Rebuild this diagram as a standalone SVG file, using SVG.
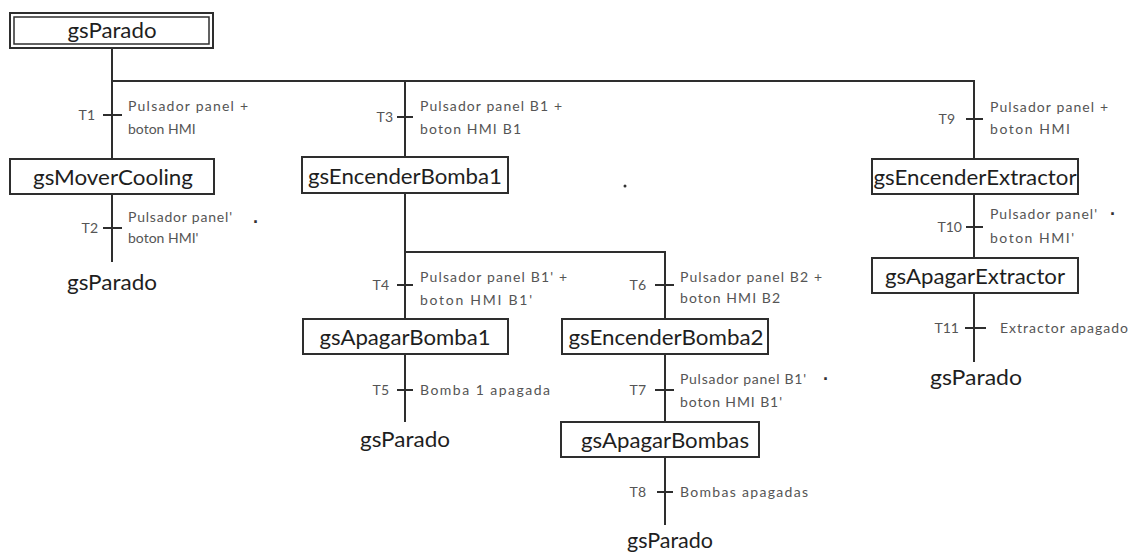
<svg xmlns="http://www.w3.org/2000/svg" width="1132" height="553" viewBox="0 0 1132 553">
  <style>
    .wire { stroke: #2e2e2e; stroke-width: 2; fill: none; }
    .tick { stroke: #2e2e2e; stroke-width: 2; }
    .box { fill: #ffffff; stroke: #2e2e2e; stroke-width: 2; }
    .inner { fill: none; stroke: #2e2e2e; stroke-width: 1.5; }
    .step { font-family: Lato, "Liberation Sans", sans-serif; font-size: 22px; fill: #1e1e1e; text-anchor: middle; }
    .tid { font-family: Lato, "Liberation Sans", sans-serif; font-size: 14px; fill: #555555; text-anchor: end; }
    .cond { font-family: Lato, "Liberation Sans", sans-serif; font-size: 14px; fill: #555555; }
    .and { font-family: "Liberation Sans", sans-serif; font-size: 18px; font-weight: bold; fill: #333333; text-anchor: middle; }
  </style>

  <rect width="1132" height="553" fill="#ffffff"/>

  <!-- connectors: step links, branches and transition ticks -->
  <g id="connectors">
    <!-- initial step to first branch bus -->
    <line class="wire" x1="112" y1="48" x2="112" y2="159"/>
    <polyline class="wire" points="112,81 974,81 974,159"/>
    <line class="wire" x1="405" y1="81" x2="405" y2="157"/>
    <!-- left column -->
    <line class="wire" x1="112" y1="194" x2="112" y2="262"/>
    <!-- pump branch -->
    <line class="wire" x1="405" y1="193" x2="405" y2="319"/>
    <polyline class="wire" points="405,252 665,252 665,319"/>
    <line class="wire" x1="405" y1="354" x2="405" y2="422"/>
    <line class="wire" x1="665" y1="354" x2="665" y2="422"/>
    <line class="wire" x1="665" y1="457" x2="665" y2="525"/>
    <!-- extractor column -->
    <line class="wire" x1="974" y1="194" x2="974" y2="258"/>
    <line class="wire" x1="974" y1="293" x2="974" y2="362"/>
  </g>

  <!-- steps -->
  <g id="step-init">
    <rect class="box" x="10" y="13" width="203" height="35"/>
    <rect class="inner" x="14" y="17" width="195" height="27"/>
    <text class="step" x="112" y="38" font-size="21" textLength="89" lengthAdjust="spacingAndGlyphs">gsParado</text>
  </g>
  <g id="step-mover-cooling">
    <rect class="box" x="10" y="159" width="204" height="35"/>
    <text class="step" x="113" y="185" textLength="160" lengthAdjust="spacingAndGlyphs">gsMoverCooling</text>
  </g>
  <g id="step-encender-bomba1">
    <rect class="box" x="302" y="157" width="206" height="36"/>
    <text class="step" x="405" y="184" textLength="194" lengthAdjust="spacingAndGlyphs">gsEncenderBomba1</text>
  </g>
  <g id="step-encender-extractor">
    <rect class="box" x="872" y="159" width="206" height="35"/>
    <text class="step" x="975" y="185" textLength="203" lengthAdjust="spacingAndGlyphs">gsEncenderExtractor</text>
  </g>
  <g id="step-apagar-bomba1">
    <rect class="box" x="303" y="319" width="205" height="35"/>
    <text class="step" x="405" y="345" textLength="171" lengthAdjust="spacingAndGlyphs">gsApagarBomba1</text>
  </g>
  <g id="step-encender-bomba2">
    <rect class="box" x="562" y="319" width="206" height="35"/>
    <text class="step" x="666" y="345" textLength="195" lengthAdjust="spacingAndGlyphs">gsEncenderBomba2</text>
  </g>
  <g id="step-apagar-bombas">
    <rect class="box" x="561" y="422" width="198" height="35"/>
    <text class="step" x="665" y="448" textLength="168" lengthAdjust="spacingAndGlyphs">gsApagarBombas</text>
  </g>
  <g id="step-apagar-extractor">
    <rect class="box" x="872" y="258" width="206" height="35"/>
    <text class="step" x="975" y="284" textLength="180" lengthAdjust="spacingAndGlyphs">gsApagarExtractor</text>
  </g>

  <!-- return-to-idle targets -->
  <g id="ret-t2"><text class="step" x="112" y="290" textLength="90" lengthAdjust="spacingAndGlyphs">gsParado</text></g>
  <g id="ret-t5"><text class="step" x="405" y="447" textLength="90" lengthAdjust="spacingAndGlyphs">gsParado</text></g>
  <g id="ret-t8"><text class="step" x="670" y="548" textLength="86" lengthAdjust="spacingAndGlyphs">gsParado</text></g>
  <g id="ret-t11"><text class="step" x="976" y="385" textLength="92" lengthAdjust="spacingAndGlyphs">gsParado</text></g>

  <!-- transitions -->
  <g id="t1">
    <line class="tick" x1="103" y1="115" x2="122" y2="115"/>
    <text class="tid" x="95" y="120">T1</text>
    <text class="cond" x="128" y="111" textLength="120" lengthAdjust="spacing">Pulsador panel +</text>
    <text class="cond" x="128" y="134">boton HMI</text>
  </g>
  <g id="t2">
    <line class="tick" x1="103" y1="228" x2="122" y2="228"/>
    <text class="tid" x="98" y="233">T2</text>
    <text class="cond" x="128" y="222" textLength="104" lengthAdjust="spacing">Pulsador panel'</text>
    <text class="and" x="256" y="228">·</text>
    <text class="cond" x="128" y="243">boton HMI'</text>
  </g>
  <g id="t3">
    <line class="tick" x1="397" y1="117" x2="413" y2="117"/>
    <text class="tid" x="393" y="122">T3</text>
    <text class="cond" x="420" y="111" textLength="142" lengthAdjust="spacing">Pulsador panel B1 +</text>
    <text class="cond" x="420" y="134" textLength="101" lengthAdjust="spacing">boton HMI B1</text>
  </g>
  <g id="t4">
    <line class="tick" x1="397" y1="285" x2="413" y2="285"/>
    <text class="tid" x="389" y="290">T4</text>
    <text class="cond" x="420" y="282" textLength="147" lengthAdjust="spacing">Pulsador panel B1' +</text>
    <text class="cond" x="420" y="305" textLength="112" lengthAdjust="spacing">boton HMI B1'</text>
  </g>
  <g id="t5">
    <line class="tick" x1="397" y1="390" x2="413" y2="390"/>
    <text class="tid" x="389" y="395">T5</text>
    <text class="cond" x="420" y="395" textLength="130" lengthAdjust="spacing">Bomba 1 apagada</text>
  </g>
  <g id="t6">
    <line class="tick" x1="655" y1="285" x2="674" y2="285"/>
    <text class="tid" x="646" y="290">T6</text>
    <text class="cond" x="680" y="282" textLength="142" lengthAdjust="spacing">Pulsador panel B2 +</text>
    <text class="cond" x="680" y="303" textLength="100" lengthAdjust="spacing">boton HMI B2</text>
  </g>
  <g id="t7">
    <line class="tick" x1="655" y1="390" x2="674" y2="390"/>
    <text class="tid" x="646" y="395">T7</text>
    <text class="cond" x="680" y="384" textLength="126" lengthAdjust="spacing">Pulsador panel B1'</text>
    <text class="and" x="826" y="385">·</text>
    <text class="cond" x="680" y="407" textLength="102" lengthAdjust="spacing">boton HMI B1'</text>
  </g>
  <g id="t8">
    <line class="tick" x1="657" y1="492" x2="673" y2="492"/>
    <text class="tid" x="646" y="497">T8</text>
    <text class="cond" x="680" y="497" textLength="128" lengthAdjust="spacing">Bombas apagadas</text>
  </g>
  <g id="t9">
    <line class="tick" x1="966" y1="119" x2="983" y2="119"/>
    <text class="tid" x="955" y="124">T9</text>
    <text class="cond" x="990" y="112" textLength="118" lengthAdjust="spacing">Pulsador panel +</text>
    <text class="cond" x="990" y="134" textLength="80" lengthAdjust="spacing">boton HMI</text>
  </g>
  <g id="t10">
    <line class="tick" x1="966" y1="227" x2="983" y2="227"/>
    <text class="tid" x="962" y="232">T10</text>
    <text class="cond" x="990" y="219" textLength="107" lengthAdjust="spacing">Pulsador panel'</text>
    <text class="and" x="1113" y="220">·</text>
    <text class="cond" x="990" y="243" textLength="84" lengthAdjust="spacing">boton HMI'</text>
  </g>
  <g id="t11">
    <line class="tick" x1="965" y1="328" x2="986" y2="328"/>
    <text class="tid" x="959" y="333">T11</text>
    <text class="cond" x="1000" y="333" textLength="128" lengthAdjust="spacing">Extractor apagado</text>
  </g>

  <!-- stray mark beside the pump branch -->
  <circle cx="625" cy="186" r="1.5" fill="#333333"/>
</svg>
